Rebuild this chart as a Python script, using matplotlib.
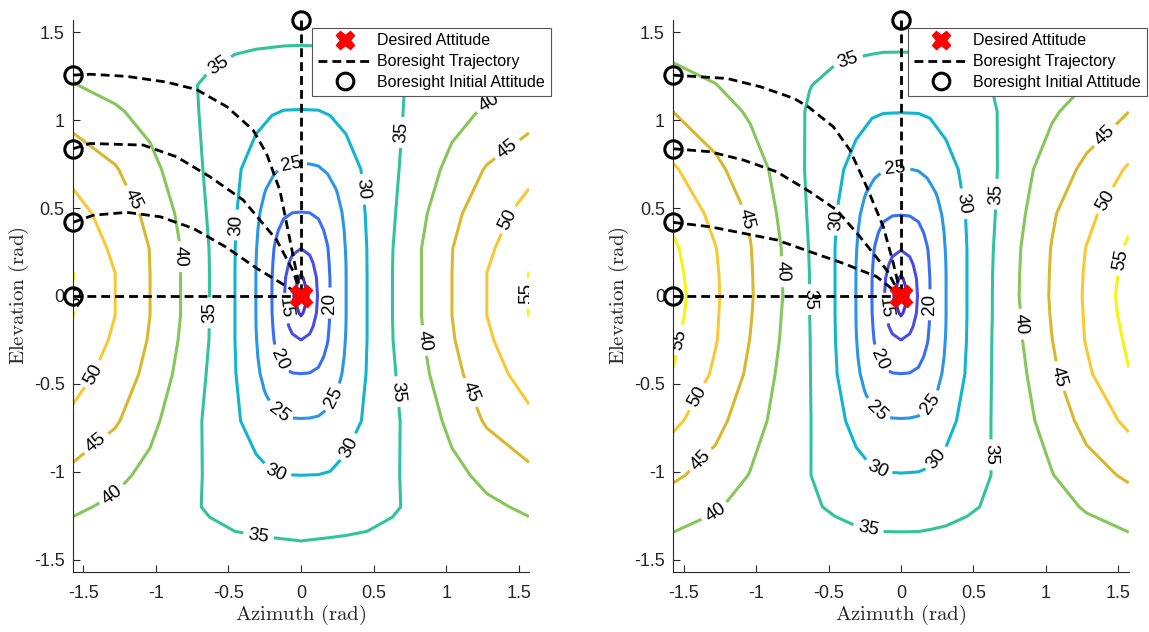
import numpy as np
import matplotlib
matplotlib.use('Agg')
import matplotlib.pyplot as plt
from matplotlib.lines import Line2D

plt.rcParams['font.family'] = ['Liberation Sans', 'DejaVu Sans']
plt.rcParams['mathtext.fontset'] = 'cm'
plt.rcParams['axes.unicode_minus'] = False

# Грубая сетка на всю область (азимут / угол места, рад)
az = [-1.571, -1.28, -1.04, -0.83, -0.63, -0.455, -0.31, -0.2, -0.12, 0.0,
      0.12, 0.2, 0.31, 0.455, 0.63, 0.83, 1.04, 1.28, 1.571]
el = [-1.571, -1.39, -1.2, -1.02, -0.71, -0.445, -0.25, -0.11, 0.0, 0.13,
      0.27, 0.47, 0.72, 1.05, 1.2, 1.43, 1.571]

# Мелкая сетка в центре (для изолиний 10-25)
az_c = [-0.36, -0.3, -0.24, -0.18, -0.12, -0.06, 0.0, 0.06, 0.12, 0.18, 0.24, 0.3, 0.36]
el_c_left = [-0.73, -0.634, -0.538, -0.442, -0.346, -0.25, -0.173, -0.096, 0.0,
             0.104, 0.187, 0.27, 0.374, 0.478, 0.582, 0.686, 0.79]
el_c_right = [-0.73, -0.634, -0.538, -0.442, -0.346, -0.25, -0.173, -0.096, 0.0,
              0.1, 0.18, 0.26, 0.36, 0.46, 0.56, 0.66, 0.76]

levels_outer = [30, 35, 40, 45, 50, 55]
levels_inner = [10, 15, 20, 25]

# Поле значений, левый график (строки = el, столбцы = az)
Z_left = [
    [37.0] * 19,
    [38.3, 37.7, 37.0, 36.4, 35.9, 35.4, 35.3, 35.2, 35.1, 34.95, 35.1, 35.2, 35.3, 35.4, 35.9, 36.4, 37.0, 37.7, 38.3],
    [40.7, 39.2, 37.5, 36.0, 34.6, 33.9, 33.2, 32.7, 32.5, 32.4, 32.5, 32.7, 33.2, 33.9, 34.6, 36.0, 37.5, 39.2, 40.7],
    [43.8, 41.1, 38.8, 36.5, 34.5, 32.8, 31.4, 30.3, 30.05, 30.0, 30.05, 30.3, 31.4, 32.8, 34.5, 36.5, 38.8, 41.1, 43.8],
    [48.9, 45.6, 41.2, 37.5, 34.1, 30.8, 27.8, 26.0, 25.3, 25.05, 25.3, 26.0, 27.8, 30.8, 34.1, 37.5, 41.2, 45.6, 48.9],
    [52.0, 47.9, 43.6, 38.7, 34.5, 30.2, 26.2, 22.5, 20.8, 20.0, 20.8, 22.5, 26.2, 30.2, 34.5, 38.7, 43.6, 47.9, 52.0],
    [54.1, 49.2, 44.6, 39.6, 34.9, 30.0, 25.2, 20.5, 16.9, 15.0, 16.9, 20.5, 25.2, 30.0, 34.9, 39.6, 44.6, 49.2, 54.1],
    [55.05, 50.0, 45.0, 40.0, 35.0, 30.0, 25.0, 20.1, 15.4, 10.0, 15.4, 20.1, 25.0, 30.0, 35.0, 40.0, 45.0, 50.0, 55.05],
    [55.3, 50.0, 45.0, 40.0, 35.0, 30.0, 25.0, 20.0, 15.0, 6.4, 15.0, 20.0, 25.0, 30.0, 35.0, 40.0, 45.0, 50.0, 55.3],
    [55.05, 50.0, 45.0, 40.0, 35.0, 30.0, 25.0, 20.1, 15.4, 10.0, 15.4, 20.1, 25.0, 30.0, 35.0, 40.0, 45.0, 50.0, 55.05],
    [54.2, 49.0, 44.9, 40.0, 34.9, 30.05, 25.2, 20.6, 17.0, 15.0, 17.0, 20.6, 25.2, 30.05, 34.9, 40.0, 44.9, 49.0, 54.2],
    [51.8, 47.8, 43.8, 39.1, 34.5, 30.4, 25.9, 22.5, 20.8, 20.0, 20.8, 22.5, 25.9, 30.4, 34.5, 39.1, 43.8, 47.8, 51.8],
    [48.6, 45.4, 41.4, 37.7, 34.2, 30.9, 27.8, 25.9, 25.3, 24.9, 25.3, 25.9, 27.8, 30.9, 34.2, 37.7, 41.4, 45.4, 48.6],
    [42.9, 40.6, 38.4, 36.2, 34.3, 32.7, 31.4, 30.3, 29.9, 29.85, 29.9, 30.3, 31.4, 32.7, 34.3, 36.2, 38.4, 40.6, 42.9],
    [40.2, 38.5, 37.0, 35.7, 34.5, 33.4, 32.6, 32.1, 31.9, 31.8, 31.9, 32.1, 32.6, 33.4, 34.5, 35.7, 37.0, 38.5, 40.2],
    [38.0, 37.3, 36.6, 36.2, 35.9, 35.5, 35.3, 35.2, 35.1, 35.05, 35.1, 35.2, 35.3, 35.5, 35.9, 36.2, 36.6, 37.3, 38.0],
    [37.0] * 19,
]

# Поле значений, правый график
Z_right = [
    [37.0] * 19,
    [39.2, 38.2, 37.6, 36.6, 36.2, 36.0, 35.9, 35.8, 35.7, 35.7, 35.7, 35.8, 35.9, 36.0, 36.2, 36.6, 37.6, 38.2, 39.2],
    [42.5, 40.4, 38.5, 37.1, 35.4, 34.6, 33.8, 33.3, 33.0, 32.9, 33.0, 33.3, 33.8, 34.6, 35.4, 37.1, 38.5, 40.4, 42.5],
    [45.8, 43.0, 39.8, 37.5, 35.1, 33.2, 31.6, 30.7, 30.3, 30.2, 30.3, 30.7, 31.6, 33.2, 35.1, 37.5, 39.8, 43.0, 45.8],
    [51.1, 46.6, 42.0, 38.4, 35.2, 31.5, 28.5, 26.1, 25.4, 25.1, 25.4, 26.1, 28.5, 31.5, 35.2, 38.4, 42.0, 46.6, 51.1],
    [54.8, 49.2, 44.0, 39.1, 35.15, 30.4, 26.4, 22.6, 20.8, 20.0, 20.8, 22.6, 26.4, 30.4, 35.15, 39.1, 44.0, 49.2, 54.8],
    [55.8, 50.3, 44.9, 39.8, 35.1, 30.1, 25.4, 20.5, 16.9, 15.0, 16.9, 20.5, 25.4, 30.1, 35.1, 39.8, 44.9, 50.3, 55.8],
    [56.6, 50.5, 45.3, 40.1, 35.0, 30.0, 25.2, 20.1, 15.4, 10.0, 15.4, 20.1, 25.2, 30.0, 35.0, 40.1, 45.3, 50.5, 56.6],
    [57.0, 50.65, 45.5, 40.4, 35.0, 30.0, 25.1, 20.0, 15.0, 6.4, 15.0, 20.0, 25.1, 30.0, 35.0, 40.4, 45.5, 50.65, 57.0],
    [56.5, 50.5, 45.4, 40.3, 34.95, 30.0, 25.2, 20.1, 15.4, 10.0, 15.4, 20.1, 25.2, 30.0, 34.95, 40.3, 45.4, 50.5, 56.5],
    [55.8, 50.15, 45.2, 40.1, 34.8, 30.0, 25.3, 20.6, 17.0, 15.0, 17.0, 20.6, 25.3, 30.0, 34.8, 40.1, 45.2, 50.15, 55.8],
    [53.6, 48.7, 44.4, 39.3, 34.5, 30.3, 26.2, 22.7, 20.9, 20.0, 20.9, 22.7, 26.2, 30.3, 34.5, 39.3, 44.4, 48.7, 53.6],
    [50.6, 46.0, 42.6, 38.3, 34.3, 31.2, 28.3, 26.2, 25.6, 25.4, 25.6, 26.2, 28.3, 31.2, 34.3, 38.3, 42.6, 46.0, 50.6],
    [44.95, 42.4, 39.3, 37.0, 34.6, 33.3, 31.6, 30.5, 30.15, 30.1, 30.15, 30.5, 31.6, 33.3, 34.6, 37.0, 39.3, 42.4, 44.95],
    [42.1, 40.1, 38.3, 36.6, 35.1, 34.1, 33.3, 32.7, 32.4, 32.3, 32.4, 32.7, 33.3, 34.1, 35.1, 36.6, 38.3, 40.1, 42.1],
    [38.3, 37.8, 37.2, 36.5, 36.1, 35.9, 35.8, 35.7, 35.6, 35.6, 35.6, 35.7, 35.8, 35.9, 36.1, 36.5, 37.2, 37.8, 38.3],
    [37.0] * 19,
]

# Центр поля на мелкой сетке (одинаков для обоих графиков)
Z_center = [
    [29.4, 28.0, 27.0, 26.2, 25.8, 25.65, 25.6, 25.65, 25.8, 26.2, 27.0, 28.0, 29.4],
    [28.6, 27.1, 25.8, 24.85, 24.15, 23.9, 23.85, 23.9, 24.15, 24.85, 25.8, 27.1, 28.6],
    [27.9, 26.2, 24.7, 23.25, 22.3, 22.0, 21.9, 22.0, 22.3, 23.25, 24.7, 26.2, 27.9],
    [27.4, 25.6, 23.6, 21.8, 20.6, 20.1, 20.0, 20.1, 20.6, 21.8, 23.6, 25.6, 27.4],
    [27.1, 25.1, 22.8, 20.65, 19.0, 17.95, 17.5, 17.95, 19.0, 20.65, 22.8, 25.1, 27.1],
    [26.9, 24.8, 22.2, 19.75, 17.6, 15.9, 15.0, 15.9, 17.6, 19.75, 22.2, 24.8, 26.9],
    [26.8, 24.65, 22.0, 19.4, 16.7, 13.9, 12.1, 13.9, 16.7, 19.4, 22.0, 24.65, 26.8],
    [26.8, 24.6, 21.9, 19.1, 15.9, 11.9, 9.4, 11.9, 15.9, 19.1, 21.9, 24.6, 26.8],
    [26.8, 24.6, 21.9, 19.0, 15.5, 10.7, 6.4, 10.7, 15.5, 19.0, 21.9, 24.6, 26.8],
    [26.8, 24.6, 21.9, 19.1, 15.9, 11.9, 9.4, 11.9, 15.9, 19.1, 21.9, 24.6, 26.8],
    [26.8, 24.65, 22.0, 19.4, 16.7, 13.9, 12.1, 13.9, 16.7, 19.4, 22.0, 24.65, 26.8],
    [26.9, 24.8, 22.2, 19.75, 17.6, 15.9, 15.0, 15.9, 17.6, 19.75, 22.2, 24.8, 26.9],
    [27.1, 25.1, 22.8, 20.65, 19.0, 17.95, 17.5, 17.95, 19.0, 20.65, 22.8, 25.1, 27.1],
    [27.4, 25.6, 23.6, 21.8, 20.6, 20.1, 20.0, 20.1, 20.6, 21.8, 23.6, 25.6, 27.4],
    [27.9, 26.2, 24.7, 23.25, 22.3, 22.0, 21.9, 22.0, 22.3, 23.25, 24.7, 26.2, 27.9],
    [28.6, 27.1, 25.8, 24.85, 24.15, 23.9, 23.85, 23.9, 24.15, 24.85, 25.8, 27.1, 28.6],
    [29.4, 28.0, 27.0, 26.2, 25.8, 25.65, 25.6, 25.65, 25.8, 26.2, 27.0, 28.0, 29.4],
]

# Начальные положения визирной оси
init_az = [-1.571, -1.571, -1.571, -1.571, 0.0]
init_el = [1.257, 0.838, 0.419, 0.0, 1.571]

# Траектории визирной оси (левый график)
traj_left = [
    ([-1.571, -1.45, -1.2, -0.93, -0.72, -0.51, -0.33, -0.237, -0.145, -0.09, -0.04, 0.0],
     [1.257, 1.262, 1.25, 1.218, 1.175, 1.077, 0.944, 0.81, 0.60, 0.375, 0.17, 0.0]),
    ([-1.571, -1.455, -1.088, -0.857, -0.628, -0.398, -0.168, -0.053, 0.0],
     [0.838, 0.868, 0.859, 0.792, 0.679, 0.546, 0.319, 0.14, 0.0]),
    ([-1.571, -1.43, -1.2, -0.97, -0.743, -0.52, -0.3, -0.05, 0.0],
     [0.419, 0.46, 0.476, 0.451, 0.385, 0.28, 0.155, 0.03, 0.0]),
    ([-1.571, 0.0], [0.0, 0.0]),
    ([0.0, 0.0], [1.571, 0.0]),
]

# Траектории визирной оси (правый график)
traj_right = [
    ([-1.571, -1.2, -0.97, -0.74, -0.64, -0.467, -0.352, -0.237, -0.122, -0.053, 0.0],
     [1.257, 1.238, 1.191, 1.125, 1.077, 0.963, 0.83, 0.622, 0.394, 0.186, 0.0]),
    ([-1.571, -1.317, -1.088, -0.857, -0.628, -0.443, -0.283, -0.099, 0.0],
     [0.838, 0.821, 0.774, 0.707, 0.593, 0.489, 0.337, 0.148, 0.0]),
    ([-1.571, -1.317, -1.088, -0.857, -0.628, -0.398, -0.168, 0.0],
     [0.419, 0.394, 0.357, 0.319, 0.252, 0.186, 0.11, 0.0]),
    ([-1.571, 0.0], [0.0, 0.0]),
    ([0.0, 0.0], [1.571, 0.0]),
]

colors_inner = ['#4537c9', '#4a4fe4', '#3a6ff2', '#2a96e4']
colors_outer = ['#12b5cf', '#33c39b', '#86c65a', '#d9b82f', '#f9c934', '#f5f514']

# где ставить подписи изолиний
lbl_out_left = [(-0.593, 1.343), (0.70, 0.93), (1.29, 1.107), (1.414, 0.844),
                (1.414, 0.44), (1.567, 0.015), (-1.168, 0.546), (-0.846, 0.224),
                (-0.448, 0.404), (0.433, 0.608), (-0.624, -0.096), (0.629, -0.547),
                (0.828, -0.256), (1.146, -0.556), (-1.401, -0.462), (-1.401, -0.848),
                (-1.3, -1.13), (-0.293, -1.365), (-0.166, -0.989), (0.318, -0.857),
                (-1.56, 0.0)]
lbl_in_left = [(-0.053, 0.707), (-0.11, -0.07), (0.2, -0.04), (-0.133, -0.354),
               (-0.14, -0.65), (0.217, -0.575)]
lbl_out_right = [(-0.363, 1.333), (-0.443, 0.432), (-1.099, 0.432),
                 (-0.823, 0.138), (-0.64, -0.02), (0.428, 0.524), (0.64, 0.58),
                 (1.391, 0.928), (1.391, 0.552), (1.516, 0.203),
                 (-1.499, -0.256), (-1.361, -0.594), (-1.361, -0.951), (-1.261, -1.252),
                 (-0.223, -1.318), (-0.148, -0.96), (0.228, -0.914),
                 (0.803, -0.162), (1.04, -0.472), (0.628, -0.904)]
lbl_in_right = [(-0.041, 0.707), (-0.11, -0.07), (0.2, -0.05), (-0.133, -0.354),
                (-0.148, -0.632), (0.178, -0.603)]

fig = plt.figure(figsize=(11.49, 6.32), dpi=100)
ax1 = fig.add_axes([73 / 1149, 60 / 632, 456 / 1149, 552 / 632])
ax2 = fig.add_axes([673.3 / 1149, 60 / 632, 455.4 / 1149, 552 / 632])

gray = '#262626'


def draw_panel(ax, Z, el_c, trajs, lbl_out, lbl_in, leg_x):
    cs = ax.contour(az, el, np.array(Z), levels=levels_outer, colors=colors_outer,
                    linewidths=2.2, zorder=1)
    ax.clabel(cs, manual=lbl_out, inline=True, fontsize=13.5, colors='k',
              fmt='%d', inline_spacing=5)
    cs2 = ax.contour(az_c, el_c, np.array(Z_center), levels=levels_inner,
                     colors=colors_inner, linewidths=2.2, zorder=1)
    ax.clabel(cs2, manual=lbl_in, inline=True, fontsize=13.5, colors='k',
              fmt='%d', inline_spacing=5)

    for x, y in trajs:
        ax.plot(x, y, color='k', lw=2, linestyle='--', dashes=(3.2, 1.8), zorder=3)
    ax.plot(init_az, init_el, 'o', ms=12.5, mfc='none', mec='k', mew=2.2,
            clip_on=False, zorder=4)
    ax.plot(0, 0, 'X', color='red', ms=16, mec='red', zorder=5, clip_on=False)

    ax.set_xlim(-np.pi / 2, np.pi / 2)
    ax.set_ylim(-np.pi / 2, np.pi / 2)
    ticks = [-1.5, -1, -0.5, 0, 0.5, 1, 1.5]
    tick_lbl = ['-1.5', '-1', '-0.5', '0', '0.5', '1', '1.5']
    ax.set_xticks(ticks)
    ax.set_xticklabels(tick_lbl)
    ax.set_yticks(ticks)
    ax.set_yticklabels(tick_lbl)
    ax.tick_params(direction='in', length=5, width=0.8, colors=gray,
                   labelsize=13, pad=6)
    ax.tick_params(axis='x', pad=9)
    for s in ['top', 'right']:
        ax.spines[s].set_visible(False)
    for s in ['left', 'bottom']:
        ax.spines[s].set_color(gray)
        ax.spines[s].set_linewidth(0.8)

    ax.set_xlabel(r'$\mathrm{Azimuth\ (rad)}$', fontsize=15, color=gray, labelpad=1)
    ax.set_ylabel(r'$\mathrm{Elevation\ (rad)}$', fontsize=15, color=gray, labelpad=2)

    h = [Line2D([], [], marker='X', color='red', ms=13, linestyle='none'),
         Line2D([], [], color='k', lw=2, linestyle='--', dashes=(3.2, 1.8)),
         Line2D([], [], marker='o', ms=12, mfc='none', mec='k', mew=2.2, linestyle='none')]
    leg = ax.legend(h, ['Desired Attitude', 'Boresight Trajectory',
                        'Boresight Initial Attitude'],
                    loc='upper left', bbox_to_anchor=(leg_x, 0.986),
                    fontsize=11.5, fancybox=False, framealpha=1,
                    edgecolor='#555555', handlelength=3.4, handletextpad=0.3,
                    borderpad=0.36, labelspacing=0.36, borderaxespad=0)
    leg.get_frame().set_linewidth(0.8)
    leg.set_zorder(10)


draw_panel(ax1, Z_left, el_c_left, traj_left, lbl_out_left, lbl_in_left, 0.525)
draw_panel(ax2, Z_right, el_c_right, traj_right, lbl_out_right, lbl_in_right, 0.516)

plt.savefig('out.png', dpi=100)
